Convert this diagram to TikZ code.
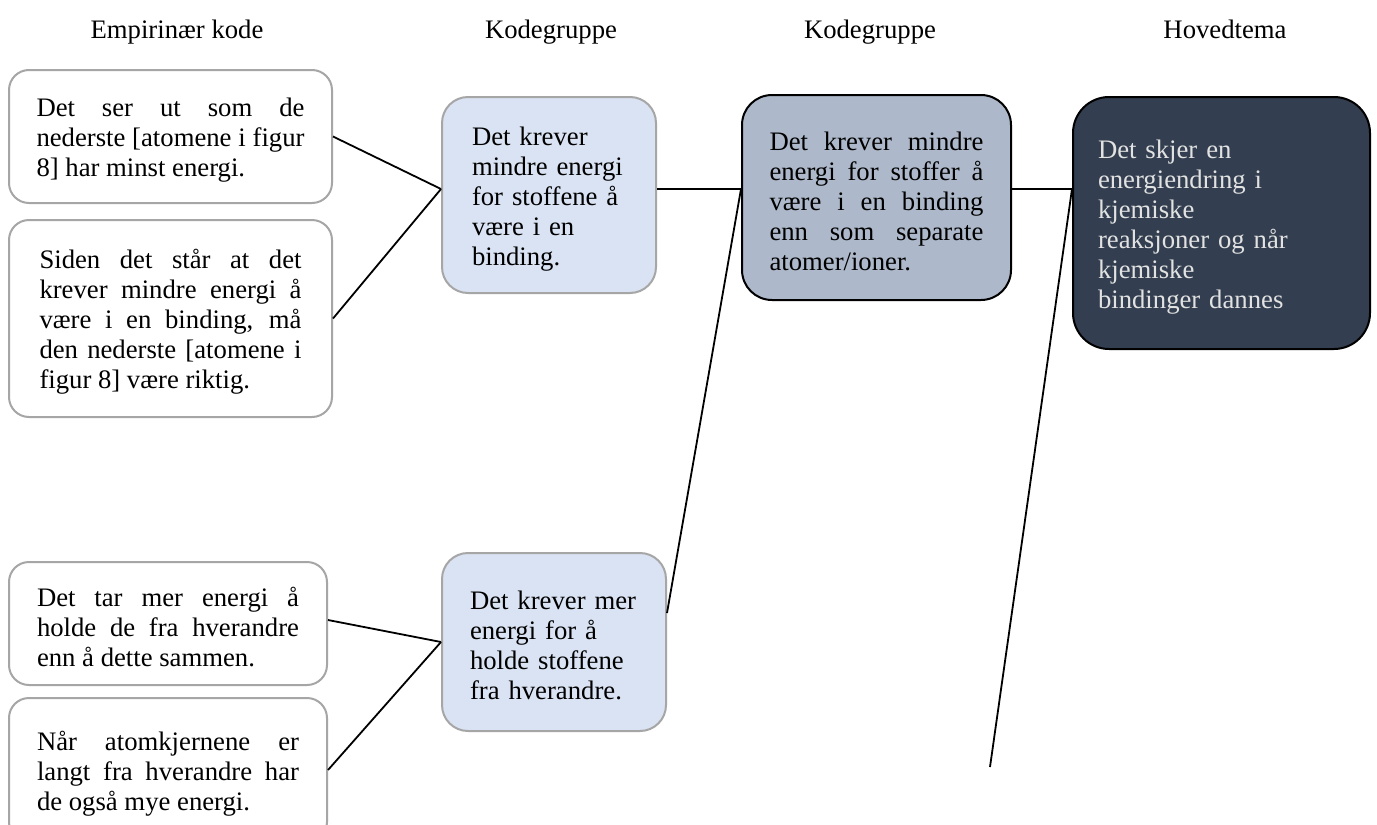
\documentclass[tikz,border=0pt]{standalone}
\usepackage{fontspec}
\setmainfont{Liberation Serif}
\usetikzlibrary{calc}
\definecolor{boxgray}{HTML}{A6A6A6}
\definecolor{lightblue}{HTML}{DAE3F3}
\definecolor{midblue}{HTML}{ADB9CA}
\definecolor{darkslate}{HTML}{333F50}
\definecolor{palegray}{HTML}{E2E2E2}
\newcommand{\tp}{\rule{0pt}{26pt}}
\tikzset{
  basefont/.style={font=\fontsize{26.7}{30}\selectfont},
  header/.style={basefont, inner sep=0pt, anchor=base},
  codebox/.style={basefont, draw=boxgray, line width=2pt, fill=white, rounded corners=20pt, inner sep=0pt, align=justify},
  groupbox/.style={basefont, draw=boxgray, line width=2pt, fill=lightblue, rounded corners=26pt, inner sep=0pt, align=left},
  group2box/.style={basefont, draw=black, line width=2pt, fill=midblue, rounded corners=30pt, inner sep=0pt, align=justify},
  themebox/.style={basefont, draw=black, line width=2pt, fill=darkslate, text=palegray, rounded corners=36pt, inner sep=0pt, align=left},
  conn/.style={draw=black, line width=1.8pt}
}
\begin{document}
\begin{tikzpicture}[x=1pt, y=-1pt]
\useasboundingbox (0,0) rectangle (1377,825);
\fill[white] (0,0) rectangle (1377,825);

% headers
\node[header] (h1) at (177,38) {Empirinær kode};
\node[header] (h2) at (551,38) {Kodegruppe};
\node[header] (h3) at (870,38) {Kodegruppe};
\node[header] (h4) at (1225,38) {Hovedtema};

% empirical codes
\node[codebox, minimum width=323pt, minimum height=133pt, text width=268pt] (A) at (170.5,136.5)
  {\tp Det ser ut som de\linebreak nederste [atomene i figur\linebreak 8] har minst energi.};
\node[codebox, minimum width=323pt, minimum height=197pt, text width=262pt] (B) at (170.5,318.5)
  {\tp Siden det står at det\linebreak krever mindre energi å\linebreak være i en binding, må\linebreak den nederste [atomene i\linebreak figur 8] være riktig.};
\node[codebox, minimum width=318pt, minimum height=123pt, text width=262pt] (C) at (168,623.5)
  {\tp Det tar mer energi å\linebreak holde de fra hverandre\linebreak enn å dette sammen.};
\node[codebox, minimum width=318pt, minimum height=144pt, text width=262pt] (D) at (168,770)
  {\tp Når atomkjernene er\linebreak langt fra hverandre har\linebreak de også mye energi.};

% code groups
\node[groupbox, minimum width=214pt, minimum height=196pt, text width=154pt] (E) at (549,195)
  {\tp Det krever\\ mindre energi\\ for stoffene å\\ være i en\\ binding.};
\node[groupbox, minimum width=224pt, minimum height=178pt, text width=168pt] (H) at (554,642)
  {\tp Det krever mer\\ energi for å\\ holde stoffene\\ fra hverandre.};

\node[group2box, minimum width=269pt, minimum height=205pt, text width=214pt] (F) at (876.5,197.5)
  {\tp Det krever mindre\linebreak energi for stoffer å\linebreak være i en binding\linebreak enn som separate\linebreak atomer/ioner.};

\node[themebox, minimum width=297pt, minimum height=252pt, text width=247pt] (G) at (1221.5,223)
  {\tp Det skjer en\\ energiendring i\\ kjemiske\\ reaksjoner og når\\ kjemiske\\ bindinger dannes};

% connection points
\coordinate (jE) at ([yshift=6pt]E.west);
\coordinate (jHe) at ([yshift=29pt]H.east);
\coordinate (jFw) at ([yshift=8.5pt]F.west);
\coordinate (jFe) at ([yshift=8.5pt]F.east);
\coordinate (jG) at ([yshift=34pt]G.west);
\coordinate (jC) at ([yshift=3.5pt]C.east);
\coordinate (tail) at (990,767);

% connectors
\draw[conn] (A.east) -- (jE);
\draw[conn] (B.east) -- (jE);
\draw[conn] (jC) -- (H.west);
\draw[conn] (D.east) -- (H.west);
\draw[conn] (E.east |- jE) -- (jFw);
\draw[conn] (jHe) -- (jFw);
\draw[conn] (jFe) -- (jG);
\draw[conn] (tail) -- (jG);
\end{tikzpicture}
\end{document}
